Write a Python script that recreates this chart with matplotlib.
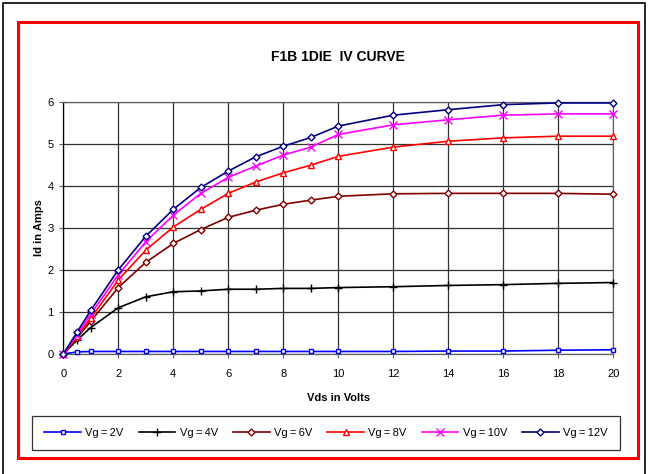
import numpy as np
import matplotlib
matplotlib.use("Agg")
import matplotlib.pyplot as plt
from matplotlib.patches import Rectangle

plt.rcParams['font.family'] = ['Liberation Sans', 'DejaVu Sans']

vds = [0, 0.5, 1, 2, 3, 4, 5, 6, 7, 8, 9, 10, 12, 14, 16, 18, 20]

id_vg2 = [0, 0.05, 0.06, 0.06, 0.06, 0.06, 0.06, 0.06, 0.06, 0.06, 0.06, 0.06, 0.06, 0.07, 0.07, 0.09, 0.10]
id_vg4 = [0, 0.33, 0.63, 1.10, 1.36, 1.48, 1.50, 1.54, 1.54, 1.56, 1.56, 1.58, 1.60, 1.63, 1.65, 1.68, 1.70]
id_vg6 = [0, 0.38, 0.78, 1.58, 2.18, 2.63, 2.96, 3.25, 3.42, 3.56, 3.66, 3.75, 3.81, 3.82, 3.82, 3.82, 3.80]
id_vg8 = [0, 0.42, 0.85, 1.76, 2.47, 3.02, 3.44, 3.82, 4.09, 4.31, 4.49, 4.70, 4.92, 5.06, 5.14, 5.18, 5.18]
id_vg10 = [0, 0.45, 0.95, 1.88, 2.67, 3.30, 3.82, 4.20, 4.47, 4.73, 4.92, 5.22, 5.45, 5.57, 5.68, 5.71, 5.71]
id_vg12 = [0, 0.52, 1.04, 2.00, 2.80, 3.44, 3.96, 4.35, 4.69, 4.94, 5.15, 5.42, 5.68, 5.81, 5.93, 5.97, 5.97]

labels = ['Vg\u2009=\u20092V', 'Vg\u2009=\u20094V', 'Vg\u2009=\u20096V',
          'Vg\u2009=\u20098V', 'Vg\u2009=\u200910V', 'Vg\u2009=\u200912V']
series = [id_vg2, id_vg4, id_vg6, id_vg8, id_vg10, id_vg12]
colors = ['#0000ff', '#000000', '#800000', '#ff0000', '#ff00ff', '#000080']
markers = ['s', '+', 'D', '^', 'x', 'D']
msizes = [3.5, 6, 3.5, 4.5, 6, 3.5]

fig = plt.figure(figsize=(6.48, 4.74), dpi=100)

# outer black frame and red chart-area frame
fig.patches.append(Rectangle((3 / 648, -0.05), 642 / 648, 1.05 - 3 / 474, transform=fig.transFigure,
                             fill=False, edgecolor='black', linewidth=1.2))
fig.patches.append(Rectangle((18 / 648, 1 - 458 / 474), 620 / 648, 436 / 474, transform=fig.transFigure,
                             fill=False, edgecolor='#ff0000', linewidth=2.2))

ax = fig.add_axes([63.3 / 648, 1 - 354 / 474, 550 / 648, 252.3 / 474])

for y, lab, c, m, ms in zip(series, labels, colors, markers, msizes):
    face = c if m in ('+', 'x') else 'white'
    ax.plot(vds, y, color=c, linewidth=1.2, marker=m, markersize=ms,
            markerfacecolor=face, markeredgecolor=c, markeredgewidth=1.0,
            label=lab, clip_on=False, zorder=3)

ax.set_xlim(0, 20)
ax.set_ylim(0, 6)
ax.set_xticks(np.arange(0, 21, 2))
ax.set_yticks(np.arange(0, 7, 1))
ax.grid(True, color='#303030', linewidth=0.9)
ax.set_axisbelow(True)
for s in ax.spines.values():
    s.set_color('#606060')
    s.set_linewidth(0.9)
ax.spines['left'].set_color('black')
ax.tick_params(labelsize=8, length=3, color='#606060')
ax.tick_params(axis='y', pad=4)
ax.tick_params(axis='x', pad=8)

ax.set_title('F1B 1DIE  IV CURVE', fontsize=10, fontweight='bold', pad=29)
ax.set_xlabel('Vds in Volts', fontsize=8, fontweight='bold', labelpad=10)
ax.set_ylabel('Id in Amps', fontsize=8, fontweight='bold')
ax.yaxis.set_label_coords(-0.035, 0.5)

leg = fig.legend(loc='center', bbox_to_anchor=(326 / 648, 1 - 433 / 474), ncol=6,
                 fontsize=8, frameon=True, fancybox=False, edgecolor='black',
                 handlelength=3.3, columnspacing=1.35, handletextpad=0.4,
                 borderpad=1.1, borderaxespad=0)
leg.get_frame().set_linewidth(0.9)

fig.savefig('out.png', dpi=100)
